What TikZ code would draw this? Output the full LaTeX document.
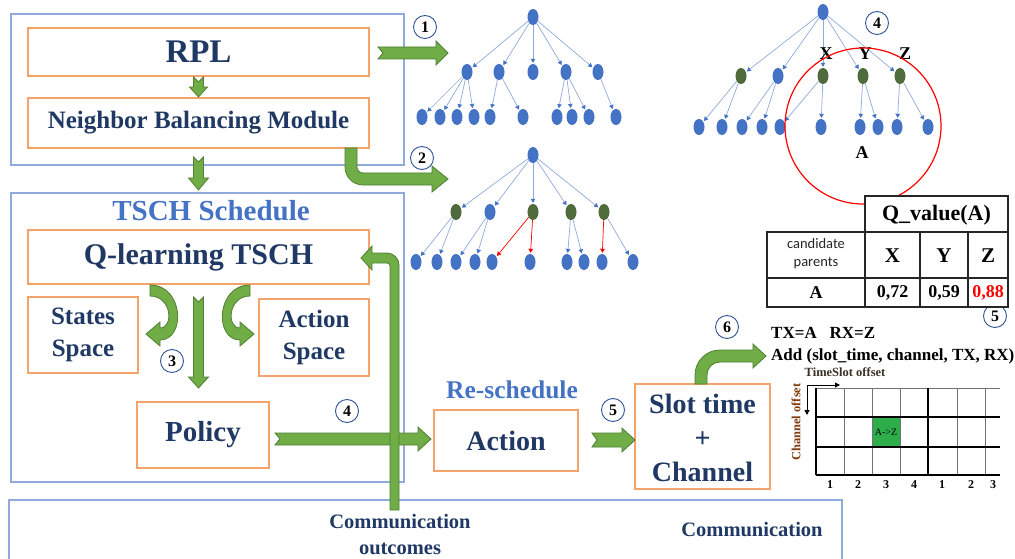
\documentclass[tikz,border=0pt]{standalone}
\usepackage{fontspec}
\setmainfont{Liberation Serif}
\newfontfamily\calib{Carlito}
\usetikzlibrary{shapes.geometric,arrows.meta,calc}

\definecolor{navy}{HTML}{1F3864}
\definecolor{titleblue}{HTML}{4472C4}
\definecolor{boxorange}{HTML}{F4A46A}
\definecolor{grpblue}{HTML}{8FAADC}
\definecolor{agreen}{HTML}{70AD47}
\definecolor{adark}{HTML}{507E32}
\definecolor{nodeblue}{HTML}{4472C4}
\definecolor{nodegreen}{HTML}{4F6B3B}
\definecolor{edgeblue}{HTML}{8FAADC}
\definecolor{tipblue}{HTML}{4472C4}
\definecolor{ringblue}{HTML}{2F5597}
\definecolor{cellgreen}{HTML}{2DAE4A}
\definecolor{chbrown}{HTML}{843C0C}
\definecolor{tsdark}{HTML}{3B3024}

\newcommand\fsz[2]{\fontsize{#1}{#2}\selectfont}

% right-pointing block arrow with a notched tail: tail, tip, half body, half head, head length
\newcommand\notchR[5]{\path[garrow] let \p1=(#1), \p2=(#2) in
  (\x1,\y1+#3) -- (\x2-#5,\y1+#3) -- (\x2-#5,\y1+#4) -- (\x2,\y1) -- (\x2-#5,\y1-#4)
  -- (\x2-#5,\y1-#3) -- (\x1,\y1-#3) -- (\x1+5pt,\y1) -- cycle;}
% downward block arrow with a notched tail
\newcommand\notchD[5]{\path[garrow] let \p1=(#1), \p2=(#2) in
  (\x1-#3,\y1) -- (\x1-#3,\y2+#5) -- (\x1-#4,\y2+#5) -- (\x1,\y2) -- (\x1+#4,\y2+#5)
  -- (\x1+#3,\y2+#5) -- (\x1+#3,\y1) -- (\x1,\y1-5pt) -- cycle;}

\tikzset{
  grp/.style={draw=grpblue, line width=1.1pt, inner sep=0pt},
  obox/.style={draw=boxorange, line width=1.3pt, fill=white, inner sep=0pt, text=navy, align=center},
  ring/.style={circle, draw=ringblue, line width=0.9pt, fill=white, minimum size=23pt, inner sep=0pt, font=\fsz{16}{16}\bfseries},
  garrow/.style={fill=agreen, draw=adark, line width=0.8pt, line join=miter},
  lbl/.style={inner sep=0pt, text=navy, align=center},
  tn/.style={ellipse, fill=nodeblue, minimum width=11pt, minimum height=16pt, inner sep=0pt},
  gn/.style={tn, fill=nodegreen},
  te/.style={draw=edgeblue, line width=0.7pt, -{Triangle[length=4pt,width=4.5pt,color=tipblue]}, shorten >=1pt},
  re/.style={te, draw=red, -{Triangle[length=4pt,width=4.5pt,color=red]}},
  tline/.style={draw=black!85, line width=1.2pt},
  gthin/.style={draw=black!55, line width=0.8pt},
  gthick/.style={draw=black, line width=1.6pt},
  cell/.style={inner sep=0pt, font=\fsz{21}{24}\bfseries},
  vcell/.style={inner sep=0pt, font=\fsz{18}{20}\bfseries},
  axis/.style={draw=black, line width=1pt, -{Triangle[length=5pt,width=5pt]}},
  gnum/.style={inner sep=0pt, font=\fsz{12}{12}\bfseries},
}

\begin{document}
\begin{tikzpicture}[x=1pt,y=-1pt]
\useasboundingbox (0,0) rectangle (1015,559);

% ---------- routing layer ----------
\node[grp, minimum width=393pt, minimum height=151pt] (grp1) at (207.5,89.5) {};
\node[obox, minimum width=341pt, minimum height=48pt, font=\fsz{33}{36}\bfseries] (rpl) at (198.5,52) {RPL};
\node[obox, minimum width=341pt, minimum height=50pt, font=\fsz{25}{28}\bfseries] (nbm) at (198.5,123) {Neighbor Balancing Module};

% ---------- scheduling layer ----------
\node[grp, minimum width=393pt, minimum height=289pt] (grp2) at (207.5,337.5) {};
\node[inner sep=0pt, text=titleblue, font=\fsz{29}{32}\bfseries] (tschttl) at (211,211) {TSCH Schedule};
\node[obox, minimum width=341pt, minimum height=54pt, font=\fsz{30}{33}\bfseries] (qtsch) at (198.5,257) {Q-learning TSCH};
\node[obox, minimum width=110pt, minimum height=76pt, font=\fsz{25}{32}\bfseries] (states) at (83,335) {States\\Space};
\node[obox, minimum width=110pt, minimum height=77pt, font=\fsz{25}{32}\bfseries] (actsp) at (314,337.5) {Action\\Space};
\node[obox, minimum width=132pt, minimum height=66pt, font=\fsz{29}{32}\bfseries] (policy) at (203,435) {Policy};

% ---------- re-scheduling ----------
\node[inner sep=0pt, text=titleblue, font=\fsz{25.5}{28}\bfseries] (resch) at (512,390) {Re-schedule};
\node[obox, minimum width=144pt, minimum height=61pt, font=\fsz{28}{31}\bfseries] (action) at (506,440.5) {Action};
\node[obox, minimum width=135pt, minimum height=105pt] (slot) at (702.5,436.5) {};
\node[lbl, font=\fsz{28}{34}\bfseries] (slottxt) at (702.5,438) {Slot time\\+\\Channel};

% ---------- communication layer ----------
\draw[grpblue, line width=1.1pt] (9,565) -- (9,500) -- (842,500) -- (842,565);
\node[lbl, font=\fsz{20.5}{26}\bfseries] (outc) at (400,535) {Communication\\outcomes};
\node[lbl, font=\fsz{20.5}{24}\bfseries] (comm) at (752,530) {Communication};

% ---------- block arrows ----------
\coordinate (a1s) at (378,53);  \coordinate (a1e) at (448,53);
\notchR{a1s}{a1e}{6pt}{12pt}{12pt}
\coordinate (d1s) at (198.5,77); \coordinate (d1e) at (198.5,97);
\notchD{d1s}{d1e}{5pt}{9pt}{10pt}
\coordinate (d2s) at (198.5,157); \coordinate (d2e) at (198.5,190);
\notchD{d2s}{d2e}{5pt}{10pt}{12pt}
\coordinate (d3s) at (198.5,297); \coordinate (d3e) at (198.5,388);
\notchD{d3s}{d3e}{5pt}{10pt}{11pt}
\coordinate (p1s) at (275,439); \coordinate (p1e) at (431,439);
\notchR{p1s}{p1e}{6pt}{12pt}{13pt}
\coordinate (p2s) at (592,440); \coordinate (p2e) at (635,440);
\notchR{p2s}{p2e}{7pt}{12pt}{13pt}

% bent arrow from the balancing module to the rebuilt tree
\path[garrow] (345,148) -- (345,167) arc[start angle=180,end angle=270,radius=18pt]
  -- (432,185) -- (432,192) -- (448,179) -- (432,166) -- (432,173) -- (363,173)
  arc[start angle=270,end angle=180,radius=6pt] -- (357,148) -- cycle;

% feedback of communication outcomes into the learner
\path[garrow] (390,510) -- (399,510) -- (399,265) arc[start angle=0,end angle=90,radius=12pt]
  -- (372,253) -- (372,246) -- (361,258) -- (372,270) -- (372,263) -- (387,263)
  arc[start angle=90,end angle=0,radius=3pt] -- cycle;

% bent arrow from slot/channel to the cell allocation
\path[garrow] (695,384) -- (695,375) arc[start angle=180,end angle=90,radius=25pt]
  -- (753,350) -- (753,344) -- (766,356) -- (753,368) -- (753,362) -- (720,362)
  arc[start angle=90,end angle=180,radius=13pt] -- (707,384) -- cycle;

% curved arrows towards the state and action spaces
\path[garrow] (150,285) .. controls (184,285) and (186,340) .. (160,340) -- (160,346) -- (146,334)
  -- (160,322) -- (160,328) .. controls (174,328) and (172,296) .. (150,296) -- cycle;
\path[garrow] (250,285) .. controls (216,285) and (214,340) .. (240,340) -- (240,346) -- (254,334)
  -- (240,322) -- (240,328) .. controls (226,328) and (228,296) .. (250,296) -- cycle;

% ---------- step numbers ----------
\node[ring] (n1) at (425,27) {1};
\node[ring] (n2) at (422,158) {2};
\node[ring] (n3) at (172,361) {3};
\node[ring] (n4a) at (347,411) {4};
\node[ring] (n4b) at (877,23) {4};
\node[ring] (n5a) at (613,410) {5};
\node[ring] (n5b) at (995,316) {5};
\node[ring] (n6) at (727,327) {6};

% ---------- tree 1: initial DODAG ----------
\node[tn] (t1r) at (533,17) {};
\foreach \n/\x in {a/467,b/499,c/533,d/566,e/598} \node[tn] (t1\n) at (\x,72) {};
\foreach \n/\x in {a1/422,a2/440,a3/457,a4/474,b1/490,b2/523,d1/557,d2/572,d3/589,e1/616}
  \node[tn] (t1\n) at (\x,117) {};
\foreach \c in {a,b,c,d,e} \draw[te] (t1r) -- (t1\c);
\foreach \p/\c in {a/a1,a/a2,a/a3,a/a4,b/b1,b/b2,d/d1,d/d2,d/d3,e/e1} \draw[te] (t1\p) -- (t1\c);

% ---------- tree 2: balanced DODAG ----------
\node[tn] (t2r) at (533,155) {};
\node[gn] (t2a) at (456,212) {};
\node[tn] (t2b) at (490,212) {};
\node[gn] (t2c) at (533,212) {};
\node[gn] (t2d) at (571,212) {};
\node[gn] (t2e) at (604,212) {};
\foreach \n/\x in {a1/416,a2/437,b1/456,b2/475,c1/492,c2/530,d1/567,d2/584,e1/602,e2/633}
  \node[tn] (t2\n) at (\x,262) {};
\foreach \c in {a,b,c,d,e} \draw[te] (t2r) -- (t2\c);
\foreach \p/\c in {a/a1,a/a2,b/b1,b/b2,d/d1,d/d2,e/e2} \draw[te] (t2\p) -- (t2\c);
\foreach \p/\c in {c/c1,c/c2,e/e1} \draw[re] (t2\p) -- (t2\c);

% ---------- tree 3: candidate parents of A ----------
\node[tn] (t3r) at (823,12) {};
\node[gn] (t3a) at (741,76) {};
\node[tn] (t3b) at (778,76) {};
\node[gn] (t3c) at (823,76) {};
\node[gn] (t3d) at (863,76) {};
\node[gn] (t3e) at (900,76) {};
\foreach \n/\x in {a1/699,a2/722,b1/742,b2/762,c1/780,c2/821,d1/860,d2/878,e1/897,e2/928}
  \node[tn] (t3\n) at (\x,127) {};
\foreach \c in {a,b,c,d,e} \draw[te] (t3r) -- (t3\c);
\foreach \p/\c in {a/a1,a/a2,b/b1,b/b2,c/c1,c/c2,d/d1,d/d2,e/e1,e/e2} \draw[te] (t3\p) -- (t3\c);
\node[inner sep=0pt, font=\fsz{18}{18}\bfseries] (lx) at (826,54) {X};
\node[inner sep=0pt, font=\fsz{18}{18}\bfseries] (ly) at (865,54) {Y};
\node[inner sep=0pt, font=\fsz{18}{18}\bfseries] (lz) at (905,54) {Z};
\node[inner sep=0pt, font=\fsz{18}{18}\bfseries] (la) at (862,153) {A};
\node[circle, draw=red, line width=1.2pt, minimum size=156pt, inner sep=0pt] (zone) at (863,126) {};

% ---------- Q-value table ----------
\fill[white] (865,196) rectangle (1008,232);
\fill[white] (767,232) rectangle (1008,307);
\draw[tline] (865,196) rectangle (1008,232);
\draw[tline] (767,232) rectangle (1008,307);
\draw[tline] (767,278) -- (1008,278);
\foreach \x in {865,920,968} \draw[tline] (\x,232) -- (\x,307);
\node[inner sep=0pt, font=\fsz{22}{24}\bfseries] (qv) at (936.5,215) {Q\_value(A)};
\node[inner sep=0pt, align=center, text=black!85, font=\calib\fsz{14.5}{18}] (cp) at (816,254) {candidate\\parents};
\node[cell] (cx) at (892.5,256) {X};
\node[cell] (cy) at (944,256) {Y};
\node[cell] (cz) at (988,256) {Z};
\node[vcell] (ra) at (816,292.5) {A};
\node[vcell] (v1) at (892.5,292.5) {0,72};
\node[vcell] (v2) at (944,292.5) {0,59};
\node[vcell, text=red] (v3) at (988,292.5) {0,88};

% ---------- cell allocation ----------
\node[anchor=base west, inner sep=0pt, font=\fsz{17}{20}\bfseries] (txrx) at (771,338) {TX=A\hspace{0.75em}RX=Z};
\node[anchor=base west, inner sep=0pt, font=\fsz{17}{20}\bfseries] (addc) at (771,360) {Add (slot\_time, channel, TX, RX)};
\node[inner sep=0pt, text=tsdark, font=\fsz{12.5}{12.5}\bfseries] (tso) at (845,372) {TimeSlot offset};
\node[inner sep=0pt, text=chbrown, rotate=90, font=\fsz{12.5}{12.5}\bfseries] (cho) at (796,422) {Channel offset};
\fill[cellgreen] (872,417) rectangle (900,447);
\node[inner sep=0pt, font=\fsz{10}{10}] (az) at (886,432) {A->Z};
\draw[gthin] (816,388) -- (1000,388);
\foreach \x in {844,872,900,957,985} \draw[gthin] (\x,388) -- (\x,475);
\foreach \y in {417,447,475} \draw[gthick] (816,\y) -- (1000,\y);
\foreach \x in {816,928} \draw[gthick] (\x,388) -- (\x,475);
\foreach \x/\t in {830/1,858/2,886/3,914/4,942/1,971/2,993/3} \node[gnum] at (\x,485) {\t};
\coordinate (ax) at (807,385); \coordinate (axr) at (840,385); \coordinate (axd) at (807,415);
\draw[axis] (ax) -- (axr);
\draw[axis] (ax) -- (axd);
\end{tikzpicture}
\end{document}
